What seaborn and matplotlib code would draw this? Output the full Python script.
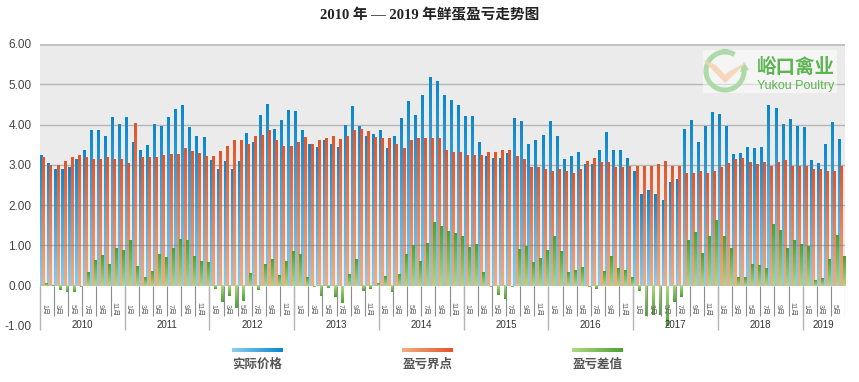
import numpy as np
import pandas as pd
import seaborn as sns
import matplotlib.pyplot as plt
from matplotlib.colors import LinearSegmentedColormap
from matplotlib.patches import Rectangle, Arc, Polygon

plt.rcParams['font.family'] = ['Liberation Sans', 'Noto Sans CJK SC']

years = list(range(2010, 2020))
month_count = 114  # Jan 2010 .. Jun 2019

price = [3.25, 3.05, 2.90, 2.89, 2.93, 3.15, 3.37, 3.87, 3.87, 3.72, 4.18, 4.01,
         4.19, 3.55, 3.37, 3.50, 4.01, 3.97, 4.18, 4.39, 4.47, 3.93, 3.72, 3.68,
         3.12, 2.90, 3.10, 2.88, 3.10, 3.79, 3.57, 4.24, 4.51, 3.89, 4.12, 4.36,
         4.34, 3.87, 3.52, 3.45, 3.60, 3.52, 3.45, 3.99, 4.46, 3.97, 3.72, 3.77,
         3.87, 3.42, 3.72, 4.17, 4.59, 4.24, 4.74, 5.18, 5.08, 4.74, 4.61, 4.49,
         4.21, 4.21, 3.57, 3.22, 3.17, 3.17, 3.30, 4.17, 4.09, 3.52, 3.60, 3.74,
         4.09, 3.72, 3.15, 3.22, 3.32, 3.02, 3.02, 3.37, 3.82, 3.37, 3.37, 3.17,
         2.85, 2.26, 2.36, 2.26, 2.11, 2.58, 2.65, 3.89, 4.12, 3.57, 3.97, 4.31,
         4.26, 3.97, 3.27, 3.30, 3.45, 3.42, 3.45, 4.49, 4.41, 4.02, 4.14, 3.97,
         3.94, 3.12, 3.05, 3.52, 4.07, 3.64]

breakeven = [3.18, 3.00, 3.00, 3.10, 3.18, 3.25, 3.18, 3.15, 3.15, 3.18, 3.15, 3.13,
             3.05, 4.04, 3.18, 3.20, 3.18, 3.25, 3.27, 3.27, 3.42, 3.33, 3.30, 3.21,
             3.22, 3.35, 3.47, 3.62, 3.62, 3.52, 3.72, 3.74, 3.87, 3.62, 3.47, 3.47,
             3.57, 3.69, 3.52, 3.60, 3.67, 3.72, 3.64, 3.72, 3.87, 3.89, 3.84, 3.69,
             3.67, 3.67, 3.52, 3.42, 3.60, 3.67, 3.67, 3.67, 3.67, 3.37, 3.32, 3.32,
             3.25, 3.25, 3.25, 3.32, 3.32, 3.37, 3.37, 3.22, 3.15, 2.95, 2.95, 2.88,
             2.83, 2.88, 2.83, 2.80, 2.88, 3.10, 3.17, 3.07, 3.07, 2.95, 2.95, 2.97,
             2.97, 2.97, 2.97, 3.02, 3.10, 2.97, 2.97, 2.80, 2.80, 2.85, 2.80, 2.83,
             2.95, 3.05, 3.15, 3.17, 3.07, 3.02, 3.07, 2.97, 3.07, 3.12, 2.97, 2.97,
             2.97, 2.90, 2.90, 2.85, 2.85, 2.97]

margin = [0.07, 0.02, -0.10, -0.16, -0.16, -0.02, 0.33, 0.63, 0.76, 0.53, 0.92, 0.89,
          1.13, 0.49, 0.22, 0.37, 0.78, 0.70, 0.92, 1.16, 1.13, 0.74, 0.61, 0.59,
          -0.08, -0.40, -0.25, -0.56, -0.38, 0.32, -0.10, 0.53, 0.67, 0.25, 0.60, 0.86,
          0.78, 0.20, -0.02, -0.25, -0.06, -0.28, -0.42, 0.28, 0.67, -0.14, -0.08, 0.05,
          0.24, -0.15, 0.28, 0.78, 1.00, 0.60, 1.05, 1.57, 1.48, 1.36, 1.30, 1.24,
          0.96, 1.02, 0.34, -0.02, -0.23, -0.34, -0.02, 0.91, 0.99, 0.59, 0.69, 0.87,
          1.22, 0.85, 0.34, 0.39, 0.46, -0.02, -0.08, 0.37, 0.72, 0.43, 0.38, 0.20,
          -0.14, -0.76, -0.72, -0.73, -0.99, -0.41, -0.28, 1.14, 1.34, 0.81, 1.22, 1.63,
          1.24, 0.92, 0.20, 0.20, 0.53, 0.50, 0.43, 1.53, 1.38, 0.92, 1.14, 1.02,
          0.99, 0.13, 0.19, 0.67, 1.26, 0.72]

series_names = ['实际价格', '盈亏界点', '盈亏差值']
light_colors = ['#8bcdf0', '#f3ad80', '#b0d884']
dark_colors = ['#0a88cf', '#e4552a', '#4ca232']

df = pd.DataFrame({
    'month': list(range(month_count)) * 3,
    'value': price + breakeven + margin,
    'series': [s for s in series_names for _ in range(month_count)],
})

fig = plt.figure(figsize=(8.59, 3.82), dpi=100)
ax = fig.add_axes([40 / 859, 56 / 382, 805 / 859, 282 / 382])

ax.axhspan(0, 6, color='#ebebeb', zorder=0, lw=0)

sns.barplot(data=df, x='month', y='value', hue='series', hue_order=series_names,
            palette=dark_colors, width=0.96, errorbar=None, legend=False,
            saturation=1, ax=ax)

# vertical gradient on each bar: light at zero, dark at the tip
grad = np.linspace(0, 1, 64).reshape(-1, 1)
for cont, lc, dc in zip(ax.containers, light_colors, dark_colors):
    cmap = LinearSegmentedColormap.from_list('g', [lc, dc])
    for p in cont.patches:
        x0, w, h = p.get_x(), p.get_width(), p.get_height()
        p.set_visible(False)
        if abs(h) < 1e-6:
            continue
        ax.imshow(grad, cmap=cmap, extent=[x0, x0 + w, 0, h], origin='lower',
                  aspect='auto', interpolation='bilinear', zorder=2)

for v in range(1, 6):
    ax.axhline(v, color='#777777', alpha=0.45, lw=1, zorder=3)
ax.axhline(6, color='#c4c4c4', lw=2.2, zorder=3)

# category axis below zero
for m in range(0, month_count + 1, 2):
    ax.vlines(m - 0.5, -0.74, 0, color='#8c8c8c', lw=0.8, zorder=3)
for k in range(len(years)):
    ax.vlines(12 * k - 0.5, -1.1, 0, color='#b4b4b4', lw=1, zorder=3, clip_on=False)
for m in range(0, month_count, 2):
    ax.text(m, -0.58, '%d月' % (m % 12 + 1), rotation=270, ha='center', va='center',
            fontsize=5, color='#666666')
for k, yr in enumerate(years):
    last = min(12 * k + 11, month_count - 1)
    ax.text((12 * k + last) / 2, -0.97, str(yr), ha='center', va='center',
            fontsize=7, color='#333333')

ax.set_autoscale_on(False)
ax.set_xlim(-0.5, month_count - 0.5)
ax.set_ylim(-1, 6)
ax.set_xticks([])
ax.set_yticks(range(-1, 7))
ax.set_yticklabels(['%.2f' % v for v in range(-1, 7)], fontsize=8.5, color='#444444')
ax.tick_params(axis='y', length=0, pad=6)
ax.set_xlabel('')
ax.set_ylabel('')
for s in ax.spines.values():
    s.set_visible(False)

fig.text(0.5, 1 - 15 / 382, '2010 年 — 2019 年鲜蛋盈亏走势图', ha='center', va='center',
         fontsize=10.5, fontweight='bold', color='#222222',
         family=['Liberation Serif', 'Noto Sans CJK SC'])

# legend strips
legend_x = [232, 402, 572]
for x0, name, lc, dc in zip(legend_x, series_names, light_colors, dark_colors):
    lax = fig.add_axes([x0 / 859, (382 - 352) / 382, 51 / 859, 4 / 382])
    lax.imshow(np.linspace(0, 1, 64).reshape(1, -1), aspect='auto',
               cmap=LinearSegmentedColormap.from_list('l', [lc, dc]))
    lax.axis('off')
    fig.text((x0 + 25.5) / 859, 1 - 365 / 382, name, ha='center', va='center',
             fontsize=9, fontweight='bold', color='#555555')

# watermark logo
fig.patches.append(Rectangle((703 / 859, (382 - 93) / 382), 134 / 859, 43 / 382,
                             transform=fig.transFigure, facecolor='white',
                             alpha=0.5, lw=0, zorder=1))
gax = fig.add_axes([701 / 859, (382 - 95) / 382, 48 / 859, 48 / 382])
gax.set_xlim(-1.2, 1.2)
gax.set_ylim(-1.2, 1.2)
gax.axis('off')
gax.add_patch(Arc((0, 0), 1.9, 1.9, theta1=60, theta2=375, color='#5db552', lw=3.6))
gax.add_patch(Polygon([(0.75, -0.05), (1.2, 0.05), (0.95, 0.45)], color='#5db552', lw=0))
gax.add_patch(Polygon([(-1.1, 0.55), (0, -0.6), (1.1, 0.45), (0.15, -0.05),
                       (0, -0.2), (-0.45, 0.3)], color='#f0a868', alpha=0.9, lw=0))
fig.text(757 / 859, 1 - 67.5 / 382, '峪口禽业', ha='left', va='center',
         fontsize=14, fontweight='bold', color='#5db552')
fig.text(757 / 859, 1 - 85.5 / 382, 'Yukou Poultry', ha='left', va='center',
         fontsize=9, color='#5db552')

fig.savefig('out.png', dpi=100)
